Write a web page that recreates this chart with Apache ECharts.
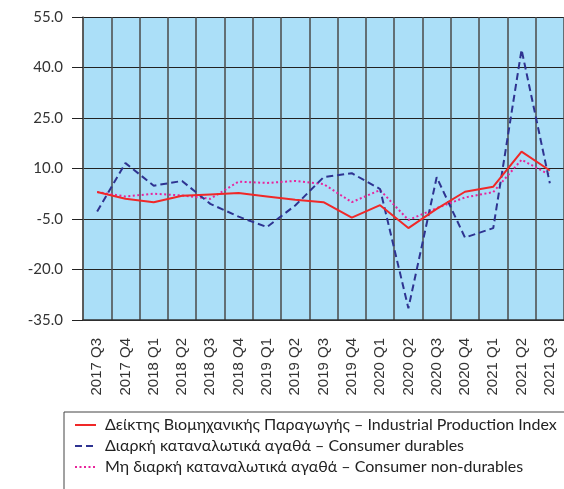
<!DOCTYPE html>
<html><head><meta charset="utf-8">
<script src="https://cdn.jsdelivr.net/npm/echarts@6/dist/echarts.min.js"></script>
<style>html,body{margin:0;padding:0;background:#fff}#c{width:564px;height:489px}</style>
</head><body><div id="c"></div>
<script>
var categories = ['2017 Q3','2017 Q4','2018 Q1','2018 Q2','2018 Q3','2018 Q4','2019 Q1','2019 Q2','2019 Q3','2019 Q4','2020 Q1','2020 Q2','2020 Q3','2020 Q4','2021 Q1','2021 Q2','2021 Q3'];
var industrial = [3.0, 1.0, 0.0, 1.9, 2.3, 2.7, 1.7, 0.7, 0.0, -4.6, -0.9, -7.7, -2.0, 3.1, 4.6, 15.0, 9.4];
var durables = [-2.8, 11.6, 4.9, 6.3, -0.5, -4.3, -7.4, -1.0, 7.4, 8.6, 3.9, -31.5, 7.4, -10.5, -7.7, 45.3, 5.6];
var nondurables = [3.0, 1.7, 2.5, 2.0, 1.0, 6.1, 5.7, 6.3, 5.4, 0.0, 3.6, -5.3, -1.8, 1.4, 3.0, 12.6, 8.1];
var seriesNames = ['Δείκτης Βιομηχανικής Παραγωγής – Industrial Production Index','Διαρκή καταναλωτικά αγαθά – Consumer durables','Μη διαρκή καταναλωτικά αγαθά – Consumer non-durables'];
var yMin = -35, yMax = 55, yStep = 15;

var chart = echarts.init(document.getElementById('c'), null, {renderer:'canvas'});
chart.setOption({
  animation:false,
  backgroundColor:'#ffffff',
  grid:{left:83, right:0, top:17, bottom:169, show:true, backgroundColor:'#abdff8', borderWidth:0},
  xAxis:{type:'category', data:categories, boundaryGap:true,
    axisLine:{show:true, onZero:false, lineStyle:{color:'#333', width:1.5}},
    axisTick:{show:false},
    splitLine:{show:true, lineStyle:{color:'#4a4a4a', width:1.5}},
    axisLabel:{rotate:90, margin:18, fontFamily:'Liberation Sans', fontSize:15, color:'#333', interval:0, padding:[8,0,0,0]}
  },
  yAxis:{type:'value', min:yMin, max:yMax, interval:yStep,
    axisLine:{show:true, lineStyle:{color:'#555', width:1.5}},
    axisTick:{show:true, length:11, lineStyle:{color:'#222', width:1}},
    splitLine:{show:true, lineStyle:{color:'#222', width:1}},
    axisLabel:{formatter:function(v){return v.toFixed(1);}, fontFamily:'Lato', fontSize:15, color:'#333', margin:20}
  },
  legend:{orient:'vertical', left:74, top:417, itemWidth:21, itemHeight:10, itemGap:5, padding:0,
    itemStyle:{opacity:0},
    textStyle:{fontFamily:'Lato', fontSize:16, color:'#222', padding:[0,0,0,4]},
    data:seriesNames},
  graphic:[{type:'rect', shape:{x:64, y:412, width:520, height:120}, style:{fill:null, stroke:'#444', lineWidth:1}, z:-1}],
  series:[
    {name:seriesNames[0], type:'line', data:industrial, symbol:'none', lineStyle:{color:'#f02828', width:2}, itemStyle:{color:'#f02828'}, z:4},
    {name:seriesNames[1], type:'line', data:durables, symbol:'none', lineStyle:{color:'#2e3391', width:2, type:[7,4]}, itemStyle:{color:'#2e3391'}, z:3},
    {name:seriesNames[2], type:'line', data:nondurables, symbol:'none', lineStyle:{color:'#e8239b', width:2, type:[2,2.5]}, itemStyle:{color:'#e8239b'}, z:2}
  ]
});
</script></body></html>
